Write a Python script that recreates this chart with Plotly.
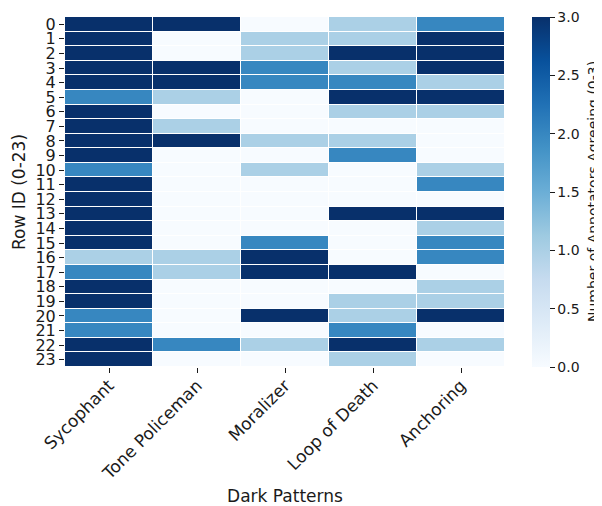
import plotly.graph_objects as go

patterns = ["Sycophant", "Tone Policeman", "Moralizer", "Loop of Death", "Anchoring"]
row_ids = list(range(24))

sycophant      = [3, 3, 3, 3, 3, 2, 3, 3, 3, 3, 2, 3, 3, 3, 3, 3, 1, 2, 3, 3, 2, 2, 3, 3]
tone_policeman = [3, 0, 0, 3, 3, 1, 0, 1, 3, 0, 0, 0, 0, 0, 0, 0, 1, 1, 0, 0, 0, 0, 2, 0]
moralizer      = [0, 1, 1, 2, 2, 0, 0, 0, 1, 0, 1, 0, 0, 0, 0, 2, 3, 3, 0, 0, 3, 0, 1, 0]
loop_of_death  = [1, 1, 3, 1, 2, 3, 1, 0, 1, 2, 0, 0, 0, 3, 0, 0, 0, 3, 0, 1, 1, 2, 3, 1]
anchoring      = [2, 3, 3, 3, 1, 3, 1, 0, 0, 0, 1, 2, 0, 3, 1, 2, 2, 0, 1, 1, 3, 0, 1, 0]

columns = [sycophant, tone_policeman, moralizer, loop_of_death, anchoring]
z = [[col[i] for col in columns] for i in range(len(row_ids))]

blues = ["#f7fbff", "#deebf7", "#c6dbef", "#9ecae1", "#6baed6",
         "#4292c6", "#2171b5", "#08519c", "#08306b"]
colorscale = [[i / (len(blues) - 1), c] for i, c in enumerate(blues)]

cbar_ticks = [0, 0.5, 1, 1.5, 2, 2.5, 3]

font = "DejaVu Sans"
ink = "#1a1a1a"

fig = go.Figure(go.Heatmap(
    z=z, x=patterns, y=row_ids,
    zmin=0, zmax=3,
    colorscale=colorscale,
    xgap=1, ygap=1,
    colorbar=dict(
        tickvals=cbar_ticks,
        ticktext=[f"{t:.1f}" for t in cbar_ticks],
        ticks="outside", ticklen=5, tickwidth=1, tickcolor=ink,
        tickfont=dict(family=font, size=14, color=ink),
        thickness=18, len=1, lenmode="fraction",
        x=(532 - 65) / 440, xanchor="left", xpad=0,
        y=0.5, yanchor="middle", ypad=0,
        outlinewidth=0,
    ),
))

# the page places the plot 8px in from the top-left corner (default body margin)
fig.update_layout(
    width=594, height=498,
    margin=dict(l=57, r=97, t=9, b=139),
    paper_bgcolor="white", plot_bgcolor="white",
    font=dict(family=font, color=ink),
    xaxis=dict(
        title=dict(text="Dark Patterns", font=dict(family=font, size=17), standoff=9),
        tickangle=-45, ticks="outside", ticklen=5, tickcolor=ink,
        tickfont=dict(family=font, size=17), ticklabelstandoff=-4,
        showgrid=False, zeroline=False, showline=False, automargin=False,
    ),
    yaxis=dict(
        title=dict(text="Row ID (0-23)", font=dict(family=font, size=17), standoff=5),
        autorange="reversed",
        tickmode="array", tickvals=row_ids, ticktext=[str(r) for r in row_ids],
        ticks="outside", ticklen=5, tickcolor=ink,
        tickfont=dict(family=font, size=16),
        showgrid=False, zeroline=False, showline=False, automargin=False,
    ),
    annotations=[dict(
        text="Number of Annotators Agreeing (0-3)",
        xref="paper", yref="paper", x=(593 - 65) / 440, y=0.5,
        xanchor="center", yanchor="middle", textangle=-90, showarrow=False,
        font=dict(family=font, size=14, color=ink),
    )],
)

fig.write_html("out.html")
